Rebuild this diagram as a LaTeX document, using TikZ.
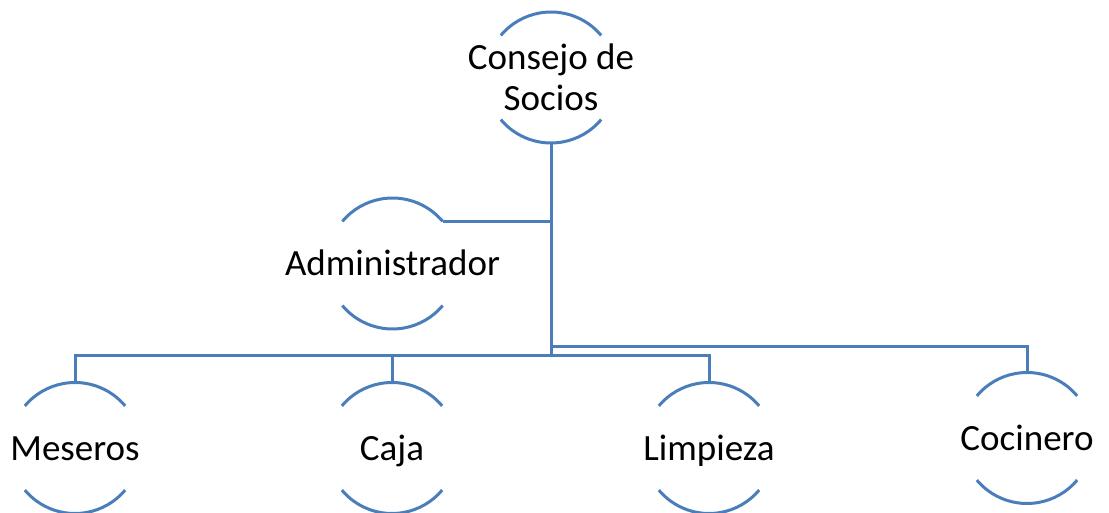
\documentclass[tikz,border=0pt]{standalone}
\usepackage{fontspec}
\setmainfont{Carlito}
\usepackage{xcolor}
\definecolor{lineblue}{RGB}{74,126,187}

\begin{document}
\begin{tikzpicture}[
            x=1pt, y=1pt,
            person/.style={circle, minimum size=131pt, inner sep=0pt, outer sep=0pt},
            persontext/.style={align=center, font=\fontsize{37}{41}\selectfont, text height=24pt, text depth=0pt},
            link/.style={draw=lineblue, line width=3pt},
            halfarc/.style={lineblue, line width=3pt}
        ]
            \useasboundingbox (0,0) rectangle (1109,512);

            % Circles (only the top and bottom arcs are drawn)
            \node[person, label={[persontext, text height=, text depth=]center:Consejo de\\Socios}] (consejo) at (551,434.5) {};
            \node[person, label={[persontext]center:Administrador}] (admin) at (392.5,248.5) {};
            \node[person, label={[persontext]center:Meseros}] (meseros) at (75,64) {};
            \node[person, label={[persontext]center:Caja}] (caja) at (392,64) {};
            \node[person, label={[persontext]center:Limpieza}] (limpieza) at (709,64) {};
            \node[person, label={[persontext]center:Cocinero}] (cocinero) at (1027,74) {};

            \foreach \n in {consejo,admin,meseros,caja,limpieza,cocinero} {
                \draw[halfarc] (\n.40) arc[start angle=40, end angle=140, radius=65.5pt];
                \draw[halfarc] (\n.220) arc[start angle=220, end angle=320, radius=65.5pt];
            }

            % Bus points on the trunk
            \coordinate (bus) at (551,156);
            \coordinate (busright) at (551,165);

            % Connectors
            \draw[link] (consejo.south) -- (bus);
            \draw[link] (admin.40) -- (admin.40 -| bus);
            \draw[link] (bus) -| (meseros.north);
            \draw[link] (bus) -| (caja.north);
            \draw[link] (bus) -| (limpieza.north);
            \draw[link] (busright) -| (cocinero.north);
        \end{tikzpicture}
\end{document}
